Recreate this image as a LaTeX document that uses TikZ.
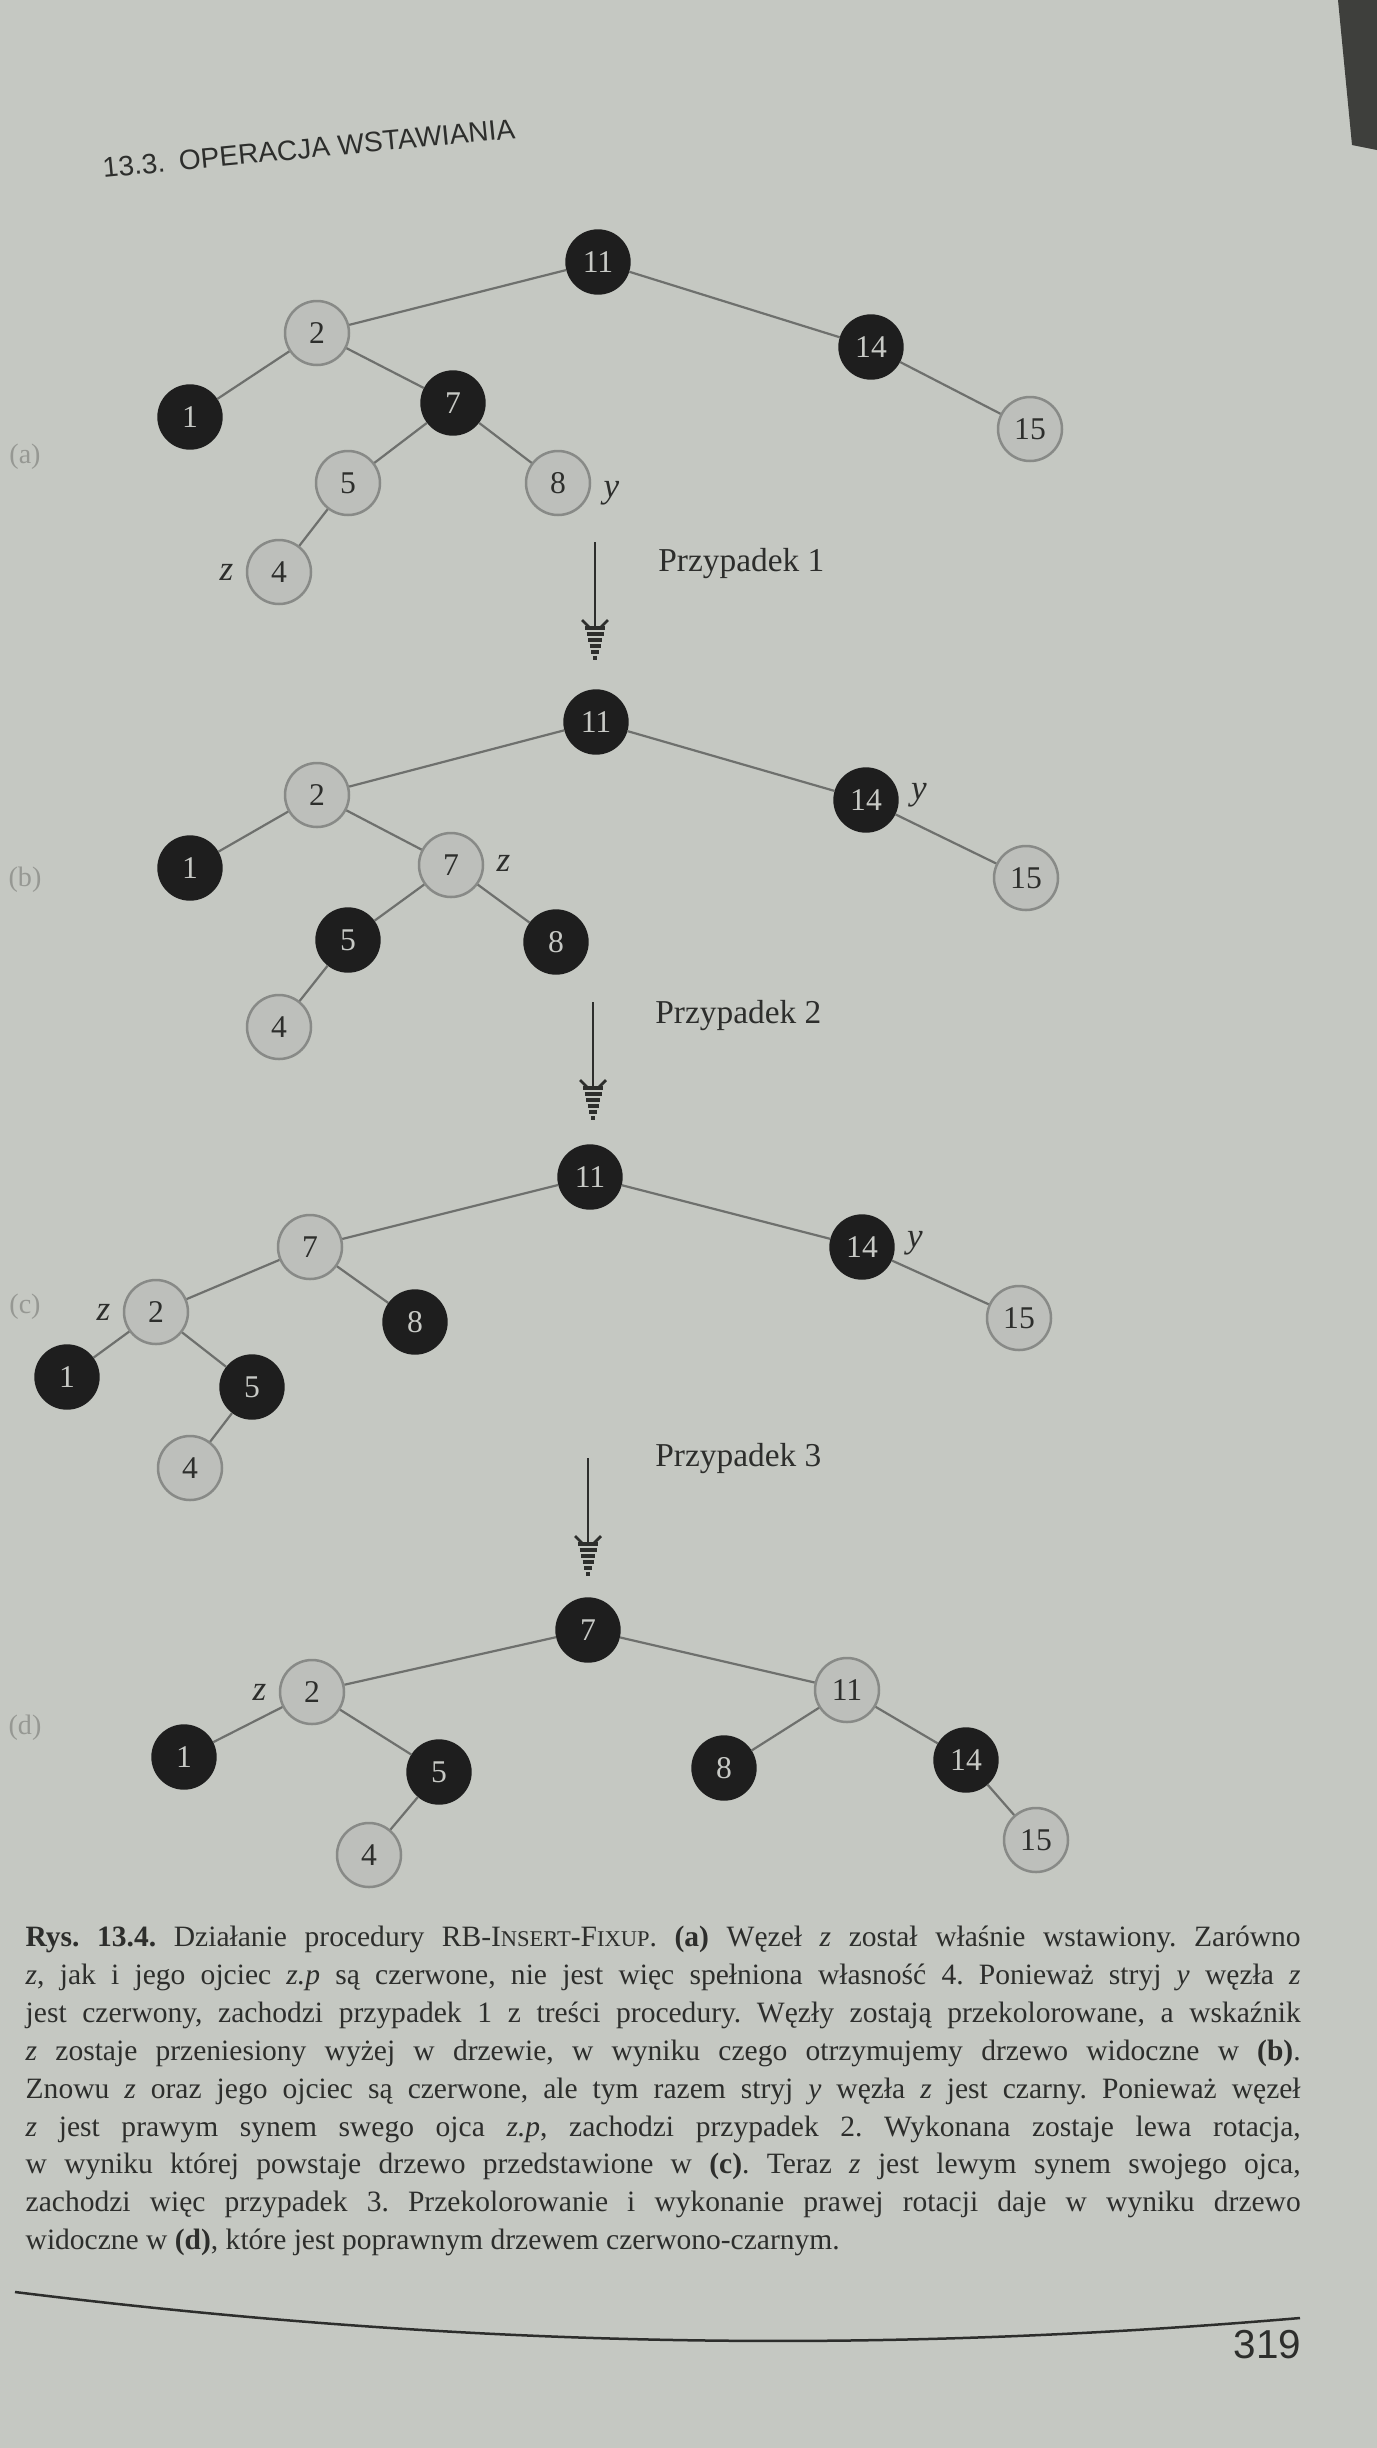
\documentclass[tikz,border=0pt]{standalone}
\usepackage{fontspec}
\setmainfont{Liberation Serif}
\newfontfamily\headfont{Liberation Sans}

\definecolor{paper}{RGB}{197,200,194}
\definecolor{pageedge}{RGB}{62,63,60}
\definecolor{inkblack}{RGB}{30,30,30}
\definecolor{redfill}{RGB}{189,191,187}
\definecolor{redline}{RGB}{136,138,135}
\definecolor{edgegray}{RGB}{110,112,109}
\definecolor{textdark}{RGB}{45,46,44}
\definecolor{faint}{RGB}{150,152,147}

\newcommand{\fakesc}[1]{{\fontsize{6.4}{6.4}\selectfont\uppercase{#1}}}

\tikzset{
  rbnode/.style={circle,minimum size=6.4mm,inner sep=0pt,font=\fontsize{9}{9}\selectfont},
  blacknode/.style={rbnode,fill=inkblack,draw=inkblack,text=redfill!85!white},
  rednode/.style={rbnode,fill=redfill,draw=redline,line width=0.25mm,text=textdark},
  treeedge/.style={draw=edgegray,line width=0.22mm},
  ptr/.style={font=\fontsize{10}{10}\selectfont\itshape,text=textdark},
  caselabel/.style={anchor=base west,font=\fontsize{9.5}{9.5}\selectfont,text=textdark},
  panel/.style={font=\fontsize{8}{8}\selectfont,text=faint},
  arrowline/.style={draw=textdark,line width=0.28mm},
  arrowbar/.style={draw=textdark,line width=0.32mm},
  pics/casearrow/.style={code={
    \draw[arrowline] (0,0) -- (0,86);
    \draw[arrowline] (-13,78) -- (-5,86) (13,78) -- (5,86);
    \foreach \dy/\hw in {86/10,92/8.5,98/7,104/5.5,110/4,116/2}
      \draw[arrowbar] (-\hw,\dy) -- (\hw,\dy);
  }}
}

\begin{document}
\begin{tikzpicture}[x=0.1mm,y=-0.1mm]
\useasboundingbox (0,0) rectangle (1377,2448);
\fill[paper] (0,0) rectangle (1377,2448);
\fill[pageedge] (1338,0) -- (1377,0) -- (1377,150) -- (1352,145) -- cycle;

% running head
\node[anchor=base west,rotate=5.5,inner sep=0pt,text=textdark,
  font=\headfont\fontsize{8}{8}\selectfont] (head) at (103,178) {13.3.\enspace OPERACJA WSTAWIANIA};

% (a)
\node[panel] (pa) at (25,457) {(a)};
\node[blacknode] at (598,262) (a11) {11};
\node[rednode] at (317,333) (a2) {2} edge[treeedge] (a11);
\node[blacknode] at (871,347) (a14) {14} edge[treeedge] (a11);
\node[blacknode] at (190,417) (a1) {1} edge[treeedge] (a2);
\node[blacknode] at (453,403) (a7) {7} edge[treeedge] (a2);
\node[rednode] at (1030,429) (a15) {15} edge[treeedge] (a14);
\node[rednode] at (348,483) (a5) {5} edge[treeedge] (a7);
\node[rednode,label={[ptr,yshift=-1mm]east:y}] at (558,483) (a8) {8} edge[treeedge] (a7);
\node[rednode,label={[ptr]west:z}] at (279,572) (a4) {4} edge[treeedge] (a5);

\coordinate (top1) at (595,542);
\pic at (top1) {casearrow};
\node[caselabel] (case1) at (646,571) {Przypadek 1};

% (b)
\node[panel] (pb) at (25,880) {(b)};
\node[blacknode] at (596,722) (b11) {11};
\node[rednode] at (317,795) (b2) {2} edge[treeedge] (b11);
\node[blacknode,label={[ptr,yshift=0.5mm]east:y}] at (866,800) (b14) {14} edge[treeedge] (b11);
\node[blacknode] at (190,868) (b1) {1} edge[treeedge] (b2);
\node[rednode,label={[ptr,yshift=0.2mm]east:z}] at (451,865) (b7) {7} edge[treeedge] (b2);
\node[rednode] at (1026,878) (b15) {15} edge[treeedge] (b14);
\node[blacknode] at (348,940) (b5) {5} edge[treeedge] (b7);
\node[blacknode] at (556,942) (b8) {8} edge[treeedge] (b7);
\node[rednode] at (279,1027) (b4) {4} edge[treeedge] (b5);

\coordinate (top2) at (593,1002);
\pic at (top2) {casearrow};
\node[caselabel] (case2) at (643,1023) {Przypadek 2};

% (c)
\node[panel] (pc) at (25,1307) {(c)};
\node[blacknode] at (590,1177) (c11) {11};
\node[rednode] at (310,1247) (c7) {7} edge[treeedge] (c11);
\node[blacknode,label={[ptr,yshift=0.4mm]east:y}] at (862,1247) (c14) {14} edge[treeedge] (c11);
\node[rednode,label={[ptr]west:z}] at (156,1312) (c2) {2} edge[treeedge] (c7);
\node[blacknode] at (415,1322) (c8) {8} edge[treeedge] (c7);
\node[rednode] at (1019,1318) (c15) {15} edge[treeedge] (c14);
\node[blacknode] at (67,1377) (c1) {1} edge[treeedge] (c2);
\node[blacknode] at (252,1387) (c5) {5} edge[treeedge] (c2);
\node[rednode] at (190,1468) (c4) {4} edge[treeedge] (c5);

\coordinate (top3) at (588,1458);
\pic at (top3) {casearrow};
\node[caselabel] (case3) at (643,1466) {Przypadek 3};

% (d)
\node[panel] (pd) at (25,1728) {(d)};
\node[blacknode] at (588,1630) (d7) {7};
\node[rednode,label={[ptr]west:z}] at (312,1692) (d2) {2} edge[treeedge] (d7);
\node[rednode] at (847,1690) (d11) {11} edge[treeedge] (d7);
\node[blacknode] at (184,1757) (d1) {1} edge[treeedge] (d2);
\node[blacknode] at (439,1772) (d5) {5} edge[treeedge] (d2);
\node[blacknode] at (724,1768) (d8) {8} edge[treeedge] (d11);
\node[blacknode] at (966,1760) (d14) {14} edge[treeedge] (d11);
\node[rednode] at (369,1855) (d4) {4} edge[treeedge] (d5);
\node[rednode] at (1036,1840) (d15) {15} edge[treeedge] (d14);

% caption
\node[anchor=north west,inner sep=0pt,text width=127.5mm,align=justify,text=textdark,
  font=\fontsize{8.4}{10.8}\selectfont\frenchspacing] (caption) at (25,1925) {%
\textbf{Rys. 13.4.} Działanie procedury RB-I\fakesc{nsert}-F\fakesc{ixup}. \textbf{(a)} Węzeł \textit{z} został właśnie wstawiony. Zarówno\linebreak
\textit{z}, jak i jego ojciec \textit{z.p} są czerwone, nie jest więc spełniona własność 4. Ponieważ stryj \textit{y} węzła \textit{z}\linebreak
jest czerwony, zachodzi przypadek 1 z treści procedury. Węzły zostają przekolorowane, a wskaźnik\linebreak
\textit{z} zostaje przeniesiony wyżej w drzewie, w wyniku czego otrzymujemy drzewo widoczne w \textbf{(b)}.\linebreak
Znowu \textit{z} oraz jego ojciec są czerwone, ale tym razem stryj \textit{y} węzła \textit{z} jest czarny. Ponieważ węzeł\linebreak
\textit{z} jest prawym synem swego ojca \textit{z.p}, zachodzi przypadek 2. Wykonana zostaje lewa rotacja,\linebreak
w wyniku której powstaje drzewo przedstawione w \textbf{(c)}. Teraz \textit{z} jest lewym synem swojego ojca,\linebreak
zachodzi więc przypadek 3. Przekolorowanie i wykonanie prawej rotacji daje w wyniku drzewo\linebreak
widoczne w \textbf{(d)}, które jest poprawnym drzewem czerwono-czarnym.};

% foot rule and page number
\draw[draw=textdark,line width=0.25mm] (15,2292) .. controls (500,2352) and (900,2352) .. (1300,2318);
\node[anchor=base east,inner sep=0pt,text=textdark,
  font=\headfont\fontsize{11.5}{11.5}\selectfont] (folio) at (1302,2358) {319};
\end{tikzpicture}
\end{document}
